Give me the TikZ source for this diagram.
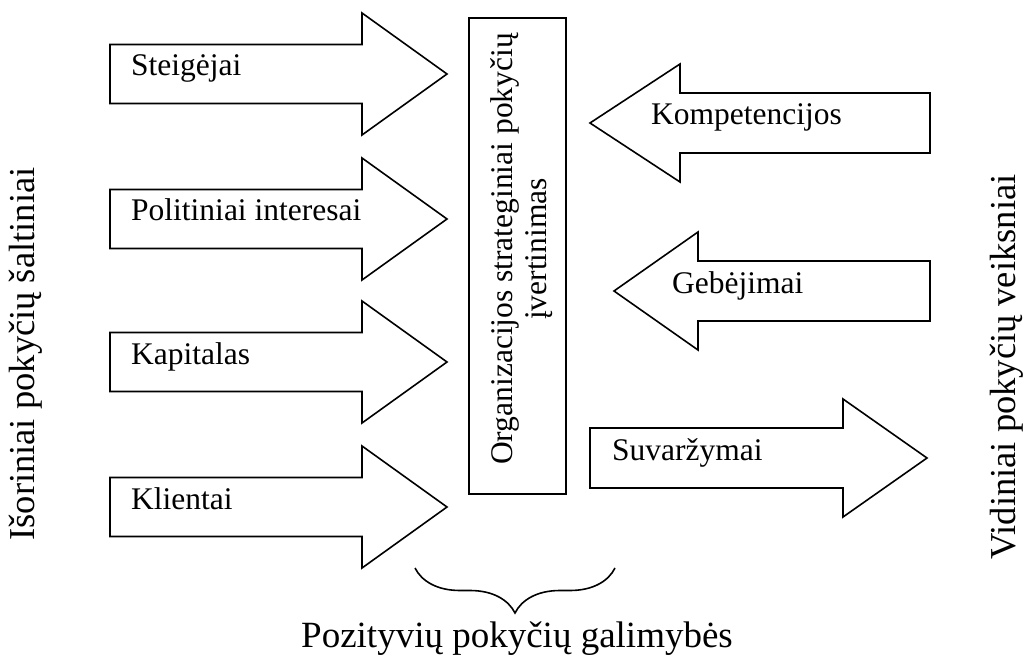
\documentclass[tikz,border=0pt]{standalone}
\usepackage{fontspec}
\setmainfont{Liberation Serif}
\usetikzlibrary{decorations.pathreplacing}
\tikzset{
  blockarrow/.style={draw, line width=1.6pt, fill=white, line join=miter},
  lbl/.style={font=\fontsize{31.5}{34}\selectfont, inner sep=0pt, anchor=base west},
  side/.style={font=\fontsize{36.5}{40}\selectfont, inner sep=0pt, rotate=90, anchor=base},
  boxstyle/.style={draw, line width=1.6pt, inner sep=0pt},
}
\begin{document}
\begin{tikzpicture}[x=1pt, y=-1pt]
\useasboundingbox (0,0) rectangle (1025,655);
% left column arrows (pointing right)
\draw[blockarrow] (110,44.5) -- (362,44.5) -- (362,13) -- (447,74) -- (362,135) -- (362,103.5) -- (110,103.5) -- cycle;
\node[lbl] (steig) at (131,76) {Steigėjai};
\draw[blockarrow] (110,189.5) -- (362,189.5) -- (362,158) -- (447,219) -- (362,280) -- (362,248.5) -- (110,248.5) -- cycle;
\node[lbl] (polit) at (131,221) {Politiniai interesai};
\draw[blockarrow] (110,332.5) -- (362,332.5) -- (362,301) -- (447,362) -- (362,423) -- (362,391.5) -- (110,391.5) -- cycle;
\node[lbl] (kapit) at (131,364) {Kapitalas};
\draw[blockarrow] (110,477.5) -- (362,477.5) -- (362,446) -- (447,507) -- (362,568) -- (362,536.5) -- (110,536.5) -- cycle;
\node[lbl] (klient) at (131,509) {Klientai};
% central box
\node[boxstyle, minimum width=97pt, minimum height=476pt] (box) at (517.5,256) {};
\node[font=\fontsize{31.5}{34}\selectfont, inner sep=0pt, rotate=90, align=center] (boxtext) at (522,249) {Organizacijos strateginiai pokyčių\\įvertinimas};
% right column arrows
\draw[blockarrow] (930,93) -- (680,93) -- (680,64) -- (590,123) -- (680,182) -- (680,153) -- (930,153) -- cycle;
\node[lbl] (komp) at (651,125) {Kompetencijos};
\draw[blockarrow] (930,261) -- (698,261) -- (698,232) -- (614,291) -- (698,350) -- (698,321) -- (930,321) -- cycle;
\node[lbl] (gebe) at (672,293) {Gebėjimai};
\draw[blockarrow] (590,428) -- (843,428) -- (843,399) -- (927,458) -- (843,517) -- (843,488) -- (590,488) -- cycle;
\node[lbl] (suvar) at (612,460) {Suvaržymai};
% side labels
\node[side] (isor) at (34,354) {Išoriniai pokyčių šaltiniai};
\node[side] (vidin) at (1015,367) {Vidiniai pokyčių veiksniai};
% brace and bottom label
\coordinate (bl) at (415,568);
\coordinate (br) at (615,568);
\draw[line width=1.6pt, decorate, decoration={brace, amplitude=45pt}] (br) -- (bl);
\node[font=\fontsize{37}{40}\selectfont, inner sep=0pt, anchor=base] (pozit) at (517,647) {Pozityvių pokyčių galimybės};
\end{tikzpicture}
\end{document}
